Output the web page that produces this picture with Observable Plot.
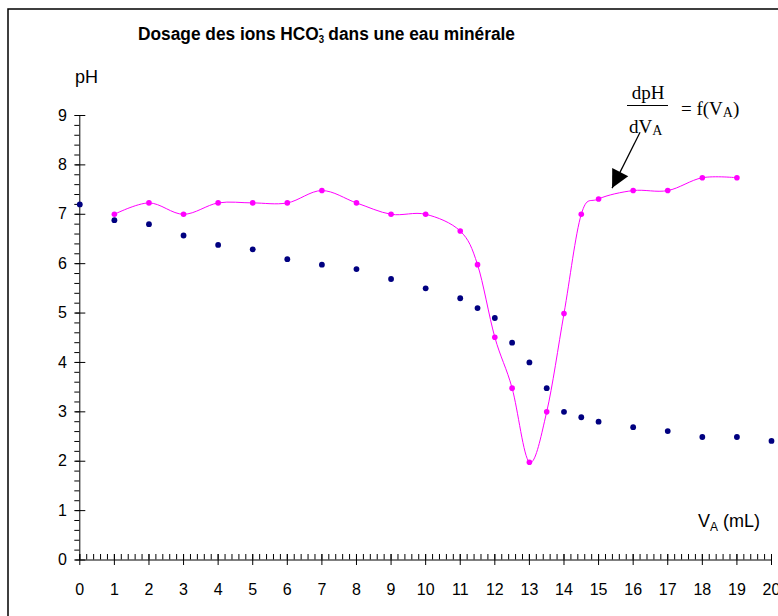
<!DOCTYPE html>
<html><head><meta charset="utf-8">
<script src="https://cdn.jsdelivr.net/npm/d3@7"></script>
<script src="https://cdn.jsdelivr.net/npm/@observablehq/plot@0.6"></script>
<style>html,body{margin:0;padding:0;overflow:hidden;background:#fff}</style>
</head><body><div id="chart"></div>
<script>
// --- data ---
const volumesPH = [0,1,2,3,4,5,6,7,8,9,10,11,11.5,12,12.5,13,13.5,14,14.5,15,16,17,18,19,20];
const pHValues  = [7.2,6.88,6.8,6.57,6.38,6.29,6.09,5.98,5.89,5.69,5.5,5.3,5.1,4.9,4.4,4.0,3.48,3.0,2.89,2.8,2.69,2.61,2.49,2.49,2.41];
const volumesDeriv = [1,2,3,4,5,6,7,8,9,10,11,11.5,12,12.5,13,13.5,14,14.5,15,16,17,18,19];
const derivValues  = [7.0,7.23,7.0,7.23,7.23,7.23,7.48,7.23,7.0,7.0,6.66,5.98,4.51,3.48,1.98,3.0,4.99,7.0,7.31,7.48,7.48,7.74,7.74];
const xTickLabels = [0,1,2,3,4,5,6,7,8,9,10,11,12,13,14,15,16,17,18,19,20];
const yTickLabels = [0,1,2,3,4,5,6,7,8,9];
const arrowStart = [16.2, 8.66];
const arrowTip = [15.39, 7.53];

const xMinor = d3.range(0, 101).map(i => i / 5);
const yMinor = d3.range(0, 46).map(i => i / 5);

const phData = volumesPH.map((v, i) => ({v, y: pHValues[i]}));
const derivData = volumesDeriv.map((v, i) => ({v, y: derivValues[i]}));
const arrowData = [{x1: arrowStart[0], y1: arrowStart[1], x2: arrowTip[0], y2: arrowTip[1]}];

const arrowHead = {draw(ctx) { ctx.moveTo(0, 0); ctx.lineTo(-9, 18); ctx.lineTo(9, 18); ctx.closePath(); }};
const blank = () => "";

const plot = Plot.plot({
  width: 778, height: 616,
  marginLeft: 79.3, marginRight: 7, marginTop: 115, marginBottom: 56.5,
  style: {fontFamily: "'Liberation Sans', Arial, sans-serif", fontSize: "16px", background: "transparent", color: "#000"},
  x: {domain: [0, 20]},
  y: {domain: [0, 9]},
  marks: [
    Plot.axisX(xMinor, {tickSize: 5.5, dy: -5.5, tickFormat: blank, label: null}),
    Plot.axisX(xTickLabels, {tickSize: 11, dy: -5.5, tickFormat: blank, label: null}),
    Plot.axisX(xTickLabels, {tickSize: 0, tickPadding: 24, label: null}),
    Plot.axisY(yMinor, {tickSize: 5, tickFormat: blank, label: null}),
    Plot.axisY(yTickLabels, {tickSize: 10, dx: 6, tickFormat: blank, label: null}),
    Plot.axisY(yTickLabels, {tickSize: 0, tickPadding: 13, label: null}),
    Plot.ruleY([0], {stroke: "#000"}),
    Plot.ruleX([0], {stroke: "#000"}),
    Plot.dot(phData, {x: "v", y: "y", r: 2.9, fill: "#000080"}),
    Plot.line(derivData, {x: "v", y: "y", curve: "cardinal", stroke: "#ff00ff", strokeWidth: 1}),
    Plot.dot(derivData, {x: "v", y: "y", r: 2.8, fill: "#ff00ff"}),
    Plot.link(arrowData, {x1: "x1", y1: "y1", x2: "x2", y2: "y2", stroke: "#000", strokeWidth: 1.3}),
    Plot.dot(arrowData, {x: "x2", y: "y2", symbol: arrowHead, rotate: 207, r: 7, fill: "#000", stroke: "none"})
  ]
});
document.getElementById("chart").appendChild(plot);

const svg = d3.select(plot);
svg.append("rect").attr("x", 8).attr("y", 9).attr("width", 1000).attr("height", 1000)
  .attr("fill", "none").attr("stroke", "#000").attr("stroke-width", 1.5);

const sans = "'Liberation Sans', Arial, sans-serif";
const serif = "'Liberation Serif', 'Times New Roman', serif";
const addText = (x, y, family, size) => svg.append("text").attr("x", x).attr("y", y)
  .attr("text-anchor", "start").attr("font-family", family).attr("font-size", size).attr("fill", "#000");

const title = addText(138, 40, sans, 18).attr("font-weight", "bold")
  .attr("textLength", 377).attr("lengthAdjust", "spacingAndGlyphs");
title.append("tspan").text("Dosage des ions HCO");
title.append("tspan").attr("font-size", 10).attr("dy", 3).text("3");
title.append("tspan").attr("font-size", 13).attr("dx", -6).attr("dy", -10).text("-");
title.append("tspan").attr("dx", 1).attr("dy", 7).text(" dans une eau minérale");

addText(75, 83, sans, 18).text("pH");

const va = addText(698, 527, sans, 18);
va.append("tspan").text("V");
va.append("tspan").attr("font-size", 12).attr("dy", 4).text("A");
va.append("tspan").attr("dy", -4).text(" (mL)");

addText(648, 99, serif, 19).attr("text-anchor", "middle").text("dpH");
svg.append("line").attr("x1", 627).attr("x2", 668).attr("y1", 105.5).attr("y2", 105.5)
  .attr("stroke", "#000").attr("stroke-width", 1);
const dv = addText(629, 133, serif, 19);
dv.append("tspan").text("dV");
dv.append("tspan").attr("font-size", 14).attr("dy", 2).text("A");
const fv = addText(681, 115, serif, 19);
fv.append("tspan").text("= f(V");
fv.append("tspan").attr("font-size", 14).attr("dy", 2).text("A");
fv.append("tspan").attr("dy", -2).text(")");
</script></body></html>
